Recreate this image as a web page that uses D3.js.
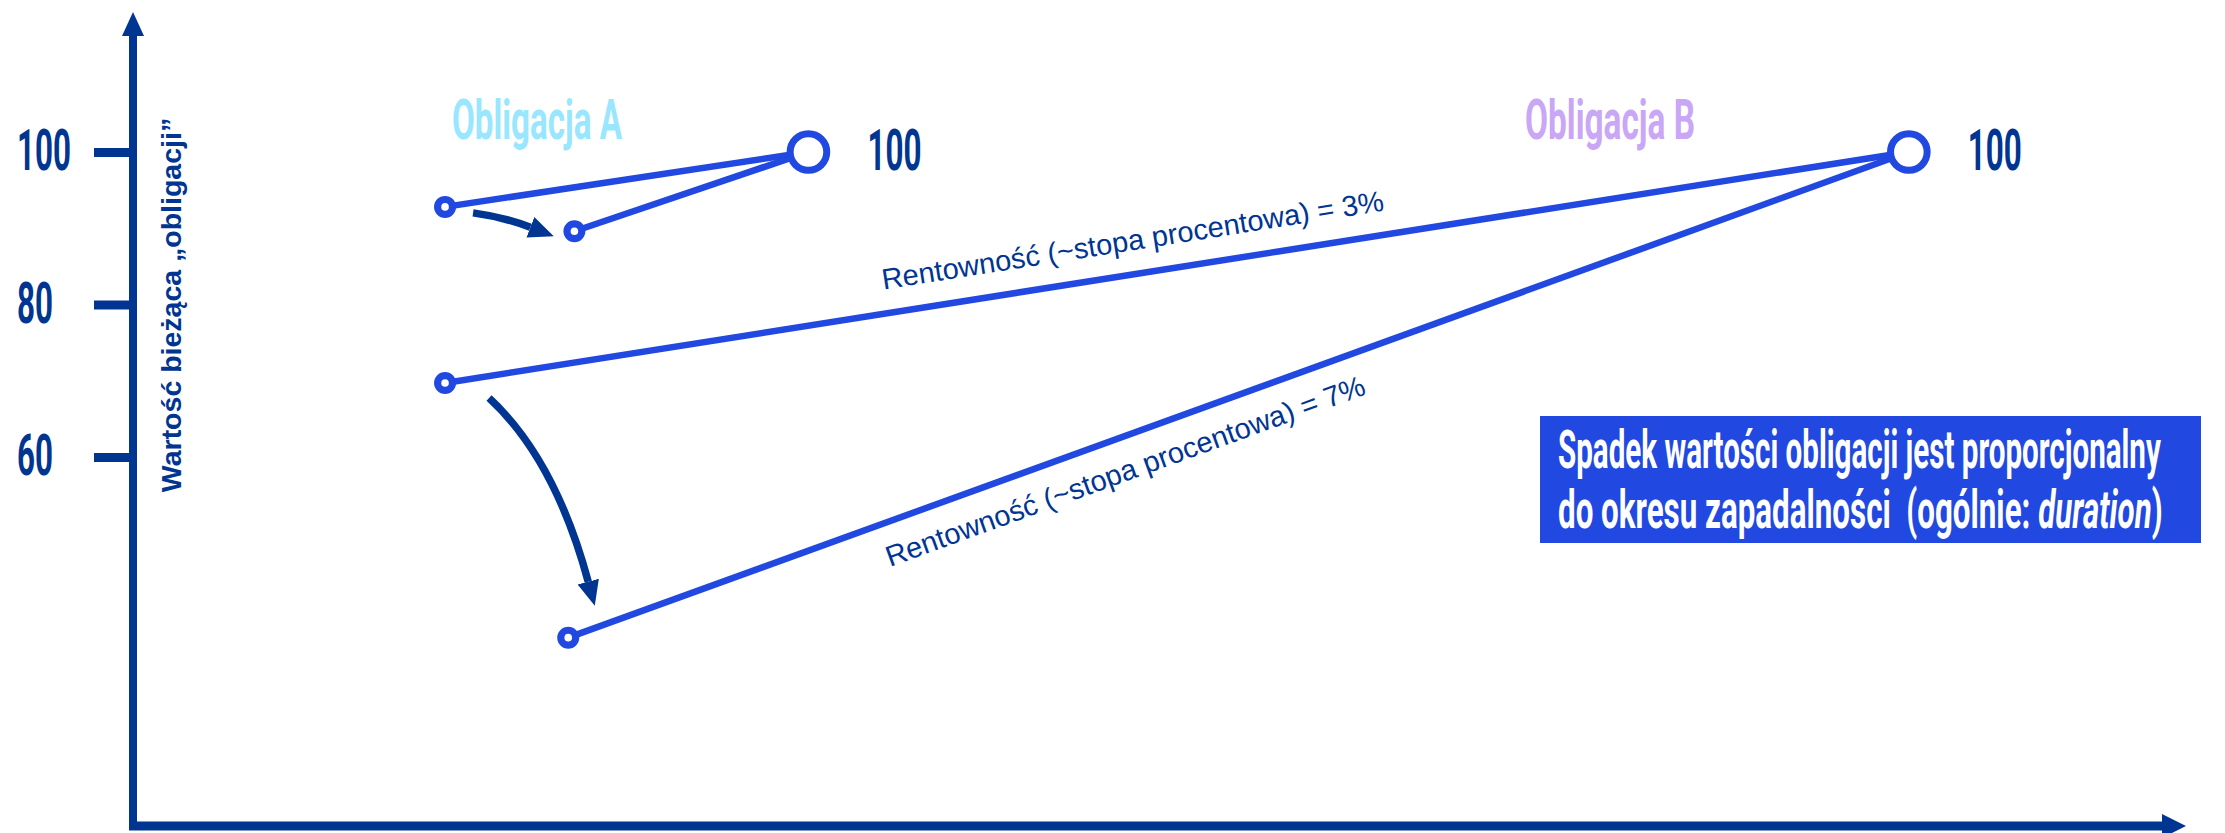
<!DOCTYPE html>
<html><head><meta charset="utf-8">
<script src="https://cdn.jsdelivr.net/npm/d3@7"></script>
<style>html,body{margin:0;padding:0;background:#fff;} svg{display:block}</style>
</head><body><svg id="chart" width="2225" height="833"></svg>
<script>
// ---- data ----
const yTicks = [60, 80, 100];
const bonds = ["Obligacja A", "Obligacja B"];
const bondColors = ["#99e6ff", "#c9a6f6"];
const maturityX = [32.9, 86.5];
const faceValue = [100, 100];
const startX = [15.2, 15.2];
const valueLowYield = [92.8, 69.7];     // yield 3%
const shiftedX = [21.5, 21.2];
const valueHighYield = [89.6, 36.3];    // yield 7%
const yieldLabels = ["Rentowność (~stopa procentowa) = 3%", "Rentowność (~stopa procentowa) = 7%"];
const axisTitle = "Wartość bieżąca „obligacji”";
const noteLine1 = "Spadek wartości obligacji jest proporcjonalny";
const noteLine2 = ["do okresu zapadalności  (ogólnie: ", "duration", ")"];

// ---- style ----
const NAVY = "#003591", BLUE = "#2148e0";
const COND = "Roboto, 'DejaVu Sans', sans-serif";
const ARIAL = "'Liberation Sans', Arial, sans-serif";

const svg = d3.select("#chart");
const x = d3.scaleLinear().domain([0, 100]).range([133, 2186]);
const y = d3.scaleLinear().domain([11.6, 118.36]).range([826, 12]);

// squeeze a text horizontally so it spans targetW pixels
function condense(sel, tx, ty, targetW) {
  sel.attr("x", 0).attr("y", 0);
  const w = sel.node().getComputedTextLength();
  sel.attr("transform", `translate(${tx},${ty}) scale(${targetW / w},1)`);
  return sel;
}

// ---- axes ----
const defs = svg.append("defs");
defs.append("marker").attr("id", "ah").attr("markerUnits", "userSpaceOnUse")
  .attr("markerWidth", 28).attr("markerHeight", 26).attr("refX", 0).attr("refY", 13)
  .attr("orient", "auto").append("path").attr("d", "M0,2 L25,13 L0,24 Z").attr("fill", NAVY);

const x0 = x(0);
svg.append("line").attr("x1", x0).attr("x2", x0).attr("y1", y.range()[0] + 4).attr("y2", y.range()[1] + 22)
  .attr("stroke", NAVY).attr("stroke-width", 8);
svg.append("path").attr("d", `M${x0 - 11},${y.range()[1] + 24} L${x0},${y.range()[1]} L${x0 + 11},${y.range()[1] + 24} Z`).attr("fill", NAVY);
const yb = y.range()[0];
svg.append("line").attr("x1", x0 - 4).attr("x2", x.range()[1] - 22).attr("y1", yb).attr("y2", yb)
  .attr("stroke", NAVY).attr("stroke-width", 9);
svg.append("path").attr("d", `M${x.range()[1] - 24},${yb - 12} L${x.range()[1]},${yb} L${x.range()[1] - 24},${yb + 12} Z`).attr("fill", NAVY);

const yAxis = d3.axisLeft(y).tickValues(yTicks).tickSize(39).tickPadding(0);
const gy = svg.append("g").attr("transform", `translate(${x0},0)`).call(yAxis);
gy.select(".domain").remove();
gy.selectAll(".tick line").attr("stroke", NAVY).attr("stroke-width", 9);
gy.selectAll(".tick text")
  .attr("dy", null).attr("text-anchor", "start").attr("fill", NAVY)
  .style("font-family", COND).style("font-weight", 700).style("font-size", "57px")
  .each(function (d) { condense(d3.select(this), 17 - x0, 18, String(d).length * 18); });

svg.append("text").attr("transform", `translate(181,${305}) rotate(-90)`)
  .attr("text-anchor", "middle").attr("fill", NAVY)
  .style("font-family", ARIAL).style("font-weight", 700).style("font-size", "28.5px")
  .text(axisTitle);

// ---- lines ----
const line = d3.line().x(d => x(d[0])).y(d => y(d[1]));
bonds.forEach((b, i) => {
  const segs = [
    [[startX[i], valueLowYield[i]], [maturityX[i], faceValue[i]]],
    [[shiftedX[i], valueHighYield[i]], [maturityX[i], faceValue[i]]]
  ];
  segs.forEach(s => svg.append("path").attr("d", line(s)).attr("fill", "none")
    .attr("stroke", BLUE).attr("stroke-width", 6.5));
});

function arrow(p0, c, p1) {
  svg.append("path").attr("d", `M${p0[0]},${p0[1]} Q${c[0]},${c[1]} ${p1[0]},${p1[1]}`)
    .attr("fill", "none").attr("stroke", NAVY).attr("stroke-width", 7.5).attr("marker-end", "url(#ah)");
}
{
  const a1 = [x(startX[0]), y(valueLowYield[0])], a2 = [x(shiftedX[0]), y(valueHighYield[0])];
  arrow([a1[0] + 28, a1[1] + 6], [a1[0] + 58, a1[1] + 10], [a2[0] - 44, a2[1] - 4]);
  const b1 = [x(startX[1]), y(valueLowYield[1])], b2 = [x(shiftedX[1]), y(valueHighYield[1])];
  arrow([b1[0] + 44, b1[1] + 15], [b1[0] + 110, b1[1] + 76], [b2[0] + 20, b2[1] - 56]);
}

bonds.forEach((b, i) => {
  [[startX[i], valueLowYield[i]], [shiftedX[i], valueHighYield[i]]].forEach(p =>
    svg.append("circle").attr("cx", x(p[0])).attr("cy", y(p[1])).attr("r", 7.4)
      .attr("fill", "#fff").attr("stroke", BLUE).attr("stroke-width", 7.2));
  svg.append("circle").attr("cx", x(maturityX[i])).attr("cy", y(faceValue[i])).attr("r", 18.3)
    .attr("fill", "#fff").attr("stroke", BLUE).attr("stroke-width", 7);
  condense(svg.append("text").attr("fill", NAVY)
    .style("font-family", COND).style("font-weight", 700).style("font-size", "57px")
    .text(faceValue[i]), x(maturityX[i]) + 59, y(faceValue[i]) + 18, 54);
});

const titleX = [452, 1525];
bonds.forEach((b, i) => {
  condense(svg.append("text").attr("fill", bondColors[i])
    .style("font-family", COND).style("font-weight", 700).style("font-size", "55px").text(b),
    titleX[i], 139, 170);
});

const labelT = [0.302, 0.229], labelOff = [-24, 43];
[[startX[1], valueLowYield[1]], [shiftedX[1], valueHighYield[1]]].forEach((p, k) => {
  const p0 = [x(p[0]), y(p[1])], p1 = [x(maturityX[1]), y(faceValue[1])];
  const dx = p1[0] - p0[0], dy = p1[1] - p0[1];
  const ang = Math.atan2(dy, dx) * 180 / Math.PI;
  const px = p0[0] + dx * labelT[k], py = p0[1] + dy * labelT[k];
  svg.append("text").attr("transform", `translate(${px},${py}) rotate(${ang})`)
    .attr("y", labelOff[k]).attr("fill", NAVY)
    .style("font-family", ARIAL).style("font-size", "29px").text(yieldLabels[k]);
});

// note box
svg.append("rect").attr("x", 1540).attr("y", 416).attr("width", 661).attr("height", 127).attr("fill", BLUE);
condense(svg.append("text").attr("fill", "#fff")
  .style("font-family", COND).style("font-weight", 700).style("font-size", "53px").text(noteLine1),
  1558, 468, 603);
const t2 = svg.append("text").attr("fill", "#fff").style("white-space", "pre")
  .style("font-family", COND).style("font-weight", 700).style("font-size", "53px");
noteLine2.forEach((t, i) => t2.append("tspan").style("font-style", i === 1 ? "italic" : "normal").text(t));
condense(t2, 1558, 528, 605);
</script></body></html>
